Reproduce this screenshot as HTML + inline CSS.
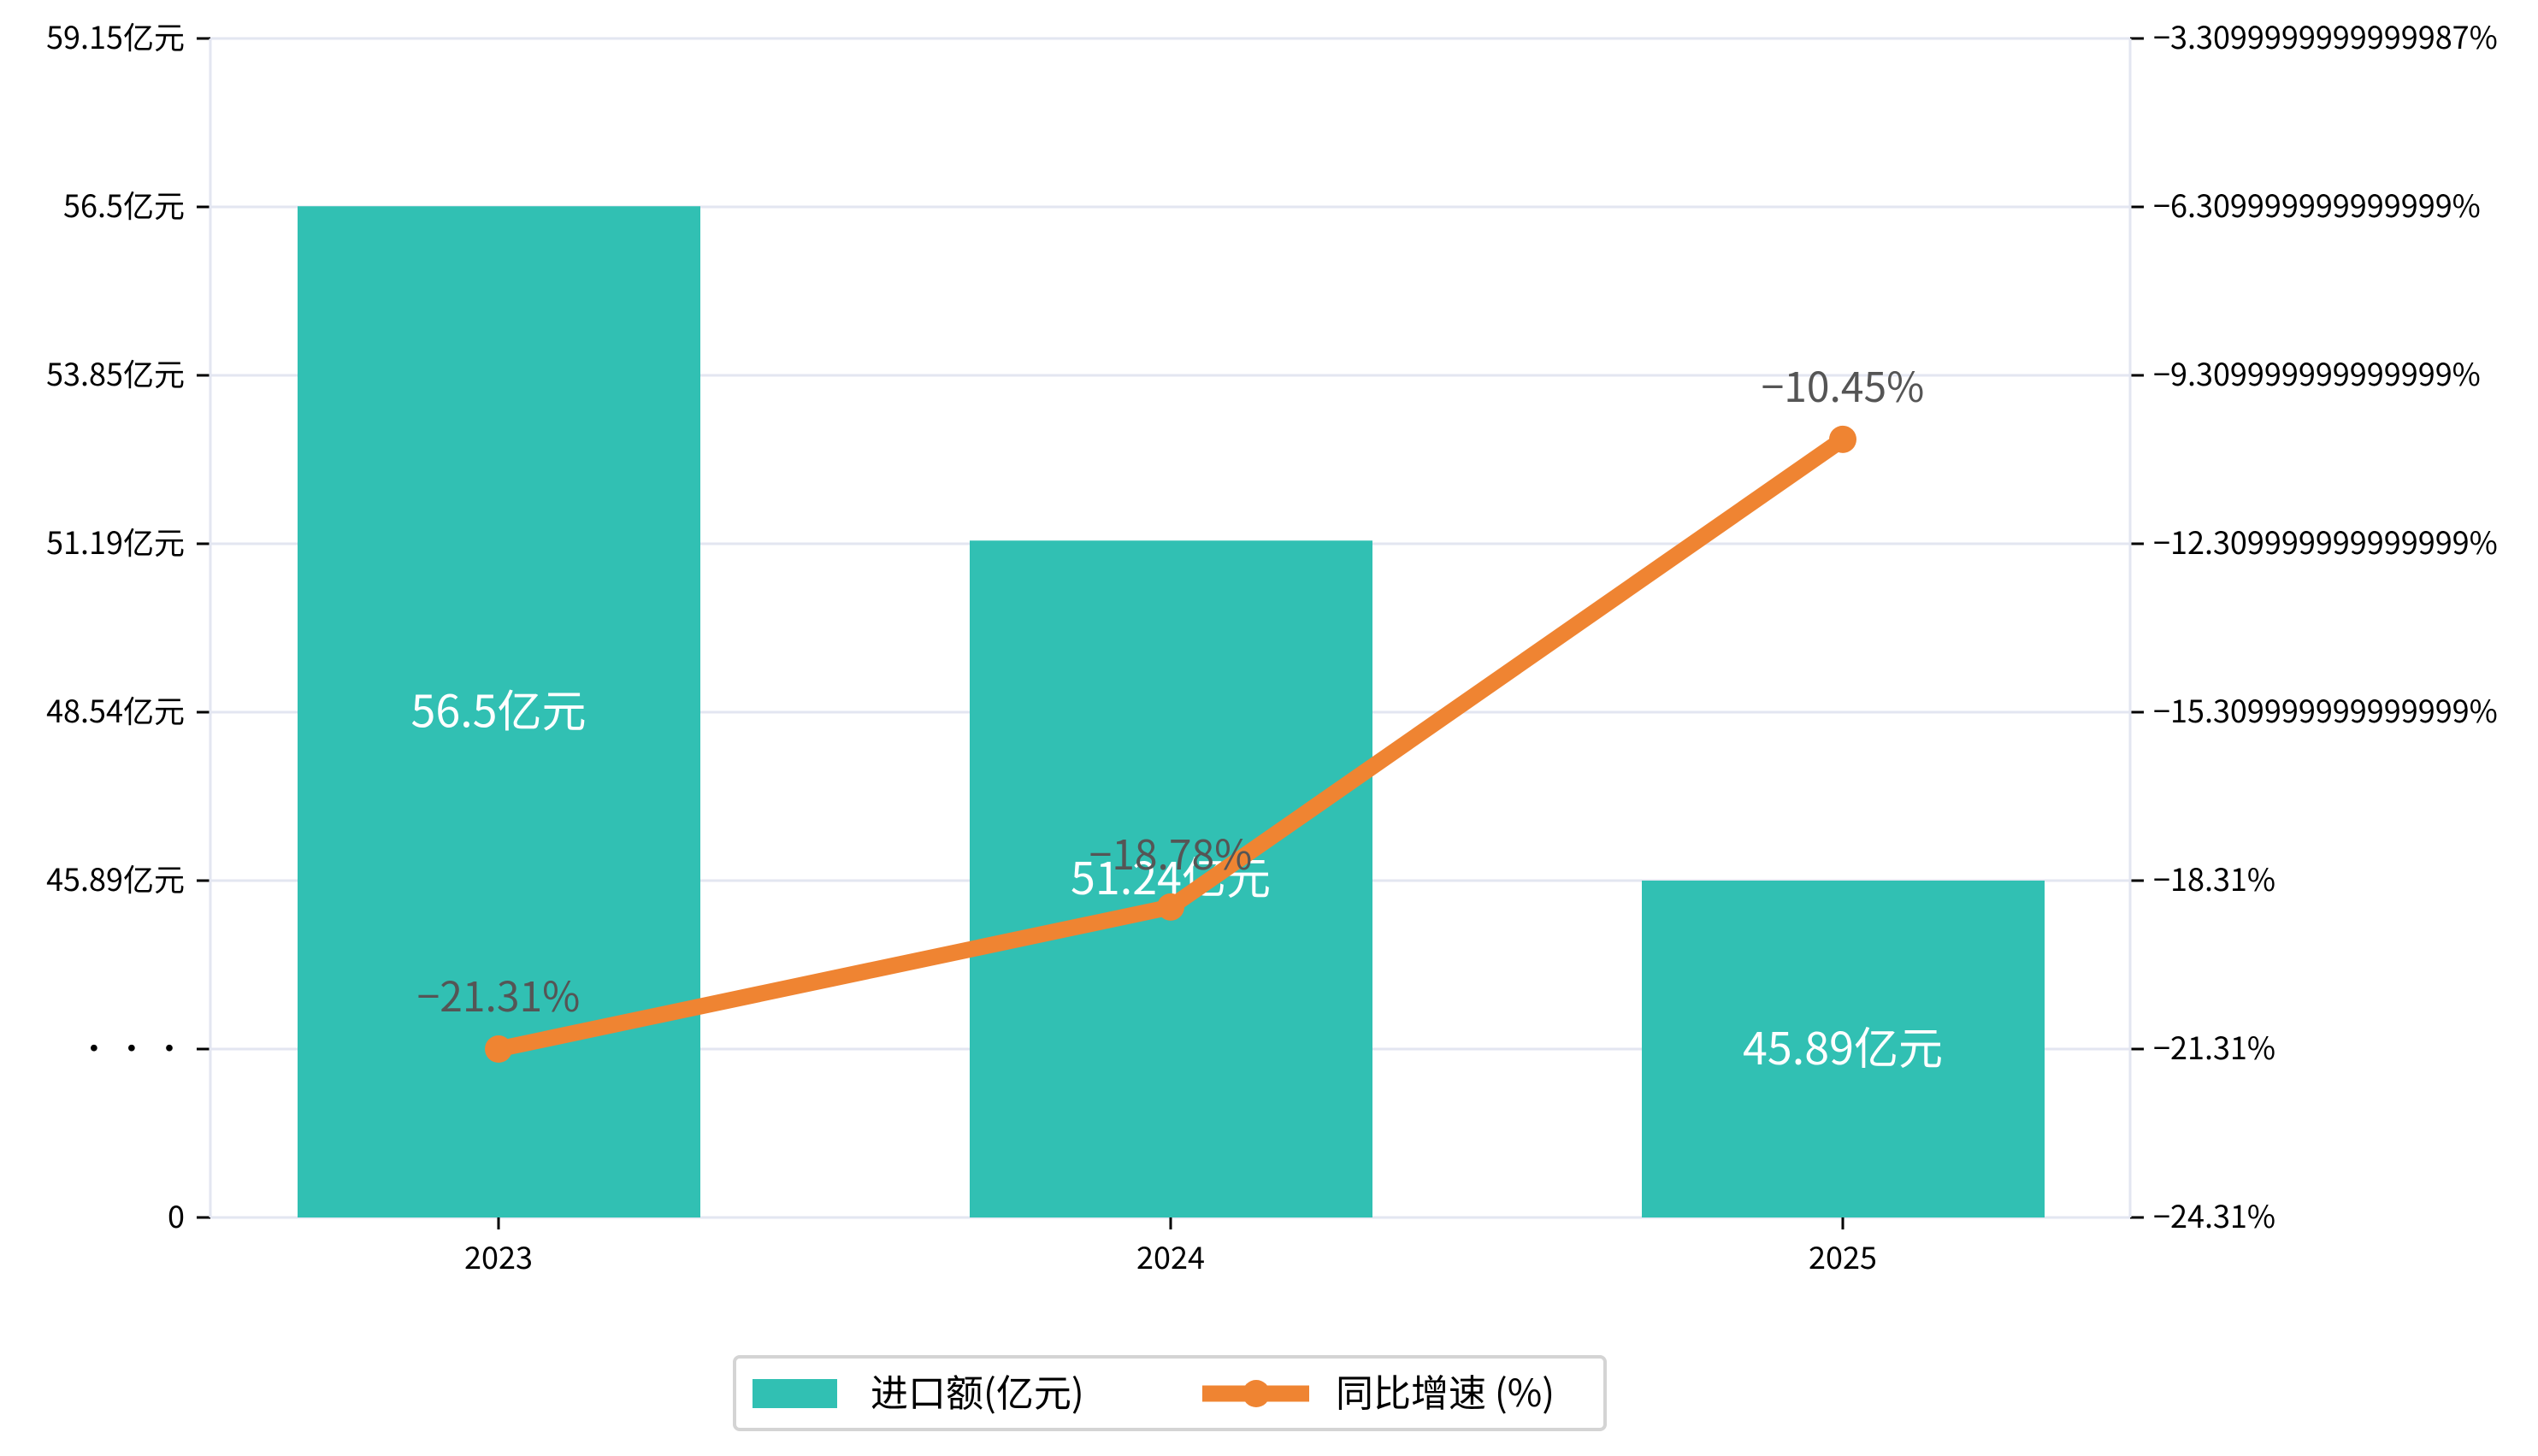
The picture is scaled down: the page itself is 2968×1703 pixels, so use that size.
<!DOCTYPE html>
<html><head><meta charset="utf-8"><style>
html,body{margin:0;padding:0;background:#fff;}
svg{display:block;font-family:"WenQuanYi Zen Hei","Noto Sans CJK SC",sans-serif;}
</style></head><body>
<svg id="c" width="2968" height="1703" viewBox="0 0 2968 1703"></svg>
<script>
const categories = ["2023","2024","2025"];
const importValues = [56.5, 51.24, 45.89];
const importLabels = ["56.5亿元","51.24亿元","45.89亿元"];
const growthValues = [-21.31, -18.78, -10.45];
const growthLabels = ["−21.31%","−18.78%","−10.45%"];
const leftTickValues = [45.89, 48.54, 51.19, 53.85, 56.5, 59.15];
const leftTickLabels = ["0","• • •","45.89亿元","48.54亿元","51.19亿元","53.85亿元","56.5亿元","59.15亿元"];
const rightTickValues = [-24.31,-21.31,-18.31,-15.31,-12.31,-9.31,-6.31,-3.31];
const rightLabelsShown = ["−24.31%","−21.31%","−18.31%","−15.309999999999999%","−12.309999999999999%","−9.309999999999999%","−6.309999999999999%","−3.3099999999999987%"];

const NS="http://www.w3.org/2000/svg";
const svg=document.getElementById('c');
const L=246,R=2491,T=45,B=1424,step=(B-T)/7;
function mk(t,a,p){const e=document.createElementNS(NS,t);for(const k in a)e.setAttribute(k,a[k]);(p||svg).appendChild(e);return e;}
function yL(v){const s=leftTickValues[1]-leftTickValues[0];const pos=2+(v-leftTickValues[0])/s;return B-pos*step;}
const rMin=rightTickValues[0],rMax=rightTickValues[rightTickValues.length-1];
function yR(v){return B-(v-rMin)/(rMax-rMin)*(B-T);}
const bw=786,x0=L+337;
function xC(i){return x0+i*bw;}

for(let k=0;k<8;k++){const y=B-k*step;
 const g=mk('line',{x1:L,x2:R,y1:y,y2:y,stroke:'#e3e6f1','stroke-width':3});
 
 const t=mk('line',{x1:L-16,x2:L,y1:y,y2:y,stroke:'#000','stroke-width':3});
 
 const lb=mk('text',{x:L-30,y:y+12,'text-anchor':'end','font-size':36,fill:'#000'});lb.textContent=leftTickLabels[k];
 
 const t2=mk('line',{x1:R,x2:R+16,y1:y,y2:y,stroke:'#000','stroke-width':3});
 
 const rl=mk('text',{x:R+27,y:y+12,'font-size':36,fill:'#000'});rl.textContent=rightLabelsShown[k];
 
}
[[L,T,L,B],[R,T,R,B],[L,B,R,B]].forEach(s=>{const e=mk('line',{x1:s[0],y1:s[1],x2:s[2],y2:s[3],stroke:'#e3e6f1','stroke-width':3});
 });
importValues.forEach((v,i)=>{const y=yL(v);
 const r=mk('rect',{x:xC(i)-235,y:y,width:471,height:B-y,fill:'#31c0b3'});
 
 const t=mk('text',{x:xC(i),y:(y+B)/2+18,'text-anchor':'middle','font-size':52,fill:'#fff'});t.textContent=importLabels[i];
 
 const xt=mk('line',{x1:xC(i),x2:xC(i),y1:B,y2:B+14,stroke:'#000','stroke-width':3});
 
 const xl=mk('text',{x:xC(i),y:B+60,'text-anchor':'middle','font-size':36,fill:'#000'});xl.textContent=categories[i];
 
});
const pts=growthValues.map((v,i)=>xC(i)+','+yR(v)).join(' ');
const pl=mk('polyline',{points:pts,fill:'none',stroke:'#ef8432','stroke-width':19,'stroke-linejoin':'round'});

growthValues.forEach((v,i)=>{
 const c=mk('circle',{cx:xC(i),cy:yR(v),r:16,fill:'#ef8432'});
 
 const t=mk('text',{x:xC(i),y:yR(v)-44,'text-anchor':'middle','font-size':48,fill:'#555'});t.textContent=growthLabels[i];
 
});
const lg=mk('g',{});
mk('rect',{x:859,y:1587,width:1018,height:85,rx:6,fill:'#fff',stroke:'#d4d4d4','stroke-width':4},lg);
const p1=mk('rect',{x:880,y:1613,width:99,height:34,fill:'#31c0b3'},lg);

const t1=mk('text',{x:1018,y:1645,'font-size':44,fill:'#000'},lg);t1.textContent='进口额(亿元)';

const l2=mk('line',{x1:1406,x2:1531,y1:1630,y2:1630,stroke:'#ef8432','stroke-width':19},lg);

mk('circle',{cx:1469,cy:1630,r:16,fill:'#ef8432'},lg);
const t2=mk('text',{x:1562,y:1645,'font-size':44,fill:'#000'},lg);t2.textContent='同比增速 (%)';

</script>
</body></html>
